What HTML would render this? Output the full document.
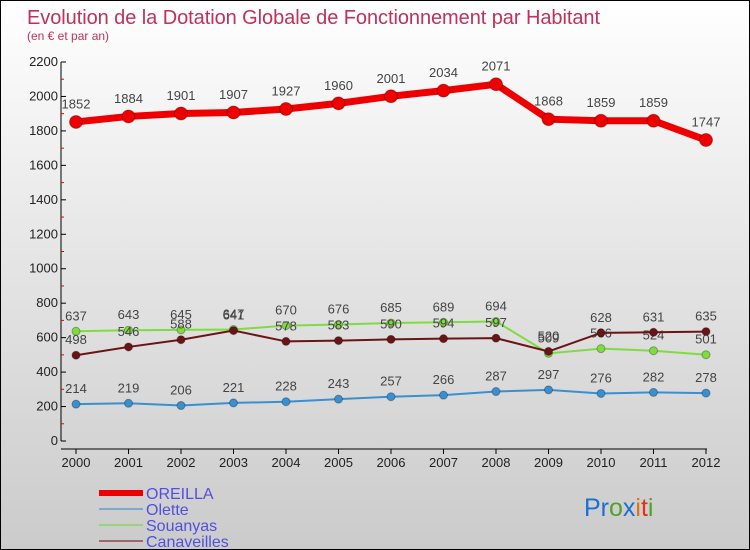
<!DOCTYPE html>
<html><head><meta charset="utf-8"><style>
body{margin:0}
#c{width:750px;height:550px;position:relative;overflow:hidden;box-sizing:border-box;border:1px solid #000;background:linear-gradient(#fff 0%,#e6e6e6 45%,#cbcbcb 100%);font-family:"Liberation Sans","DejaVu Sans",sans-serif}
</style></head><body>
<div id="c">
<svg id="s" width="750" height="550" style="position:absolute;left:0;top:0">
<text x="26" y="23" font-size="20" fill="#c0305a" textLength="573">Evolution de la Dotation Globale de Fonctionnement par Habitant</text>
<text x="26" y="39" font-size="12" fill="#c0305a">(en € et par an)</text>
</svg>
</div>
<script>
const years=["2000","2001","2002","2003","2004","2005","2006","2007","2008","2009","2010","2011","2012"];
const oreilla=[1852,1884,1901,1907,1927,1960,2001,2034,2071,1868,1859,1859,1747];
const olette=[214,219,206,221,228,243,257,266,287,297,276,282,278];
const souanyas=[637,643,645,647,670,676,685,689,694,509,536,524,501];
const canaveilles=[498,546,588,641,578,583,590,594,597,520,628,631,635];
const yTicks=[0,200,400,600,800,1000,1200,1400,1600,1800,2000,2200];
const NS="http://www.w3.org/2000/svg",s=document.getElementById('s');
const X=i=>75+i*52.5, Y=v=>440-v*379/2200;
function el(t,a,p){const e=document.createElementNS(NS,t);for(const k in a)e.setAttribute(k,a[k]);(p||s).appendChild(e);return e;}
let ax=el('line',{x1:60,y1:Y(2200),x2:60,y2:440,stroke:'#000'});

let bx=el('line',{x1:60,y1:448,x2:706,y2:448,stroke:'#000'});

yTicks.forEach(v=>{
 el('line',{x1:60,y1:Y(v),x2:65,y2:Y(v),stroke:'#000'});
 if(v<2200)el('line',{x1:60,y1:Y(v+100),x2:63,y2:Y(v+100),stroke:'#e00'});
 const t=el('text',{x:57,y:Y(v)+4,'font-size':13,fill:'#222','text-anchor':'end'});t.textContent=v;
 
});
years.forEach((y,i)=>{
 el('line',{x1:X(i),y1:448,x2:X(i),y2:453,stroke:'#000'});
 const t=el('text',{x:X(i),y:466,'font-size':13,fill:'#222','text-anchor':'middle'});t.textContent=y;
 
});
function series(d,col,w,r,name){
 const g=el('g',{});
 el('polyline',{points:d.map((v,i)=>X(i)+','+Y(v)).join(' '),fill:'none',stroke:col,'stroke-width':w},g);
 d.forEach((v,i)=>{
  const c=el('circle',{cx:X(i),cy:Y(v),r:r,fill:col,stroke:'rgba(0,0,0,0.3)','stroke-width':1},g);
  
  const t=el('text',{x:X(i),y:Y(v)-(r+7),'font-size':13,fill:'#444','text-anchor':'middle'},g);t.textContent=v;
  
 });
}
series(olette,'#3a8fd0',2,4,'olette');
series(souanyas,'#7fdc40',2,4,'souanyas');
series(canaveilles,'#6a1515',2,4,'canaveilles');
series(oreilla,'#ee0000',7,6.5,'oreilla');
const leg=[['OREILLA','#ee0000',6],['Olette','#7aaad0',2],['Souanyas','#99d37a',2],['Canaveilles','#9a6a6a',2]];
leg.forEach((l,i)=>{
 const y=492+i*16;
 const g=el('g',{});
 el('line',{x1:98,y1:y,x2:142,y2:y,stroke:l[1],'stroke-width':l[2]},g);
 const t=el('text',{x:145,y:y+6,'font-size':16,fill:'#5050e0'},g);t.textContent=l[0];
});
const logo=el('text',{x:583,y:515,'font-size':25});

[['Pr','#1a6fd0'],['o','#50a030'],['x','#1a6fd0'],['i','#e07010'],['t','#e03020'],['i','#50a030']].forEach(p=>{const ts=el('tspan',{fill:p[1]},logo);ts.textContent=p[0];});
</script>
</body></html>
